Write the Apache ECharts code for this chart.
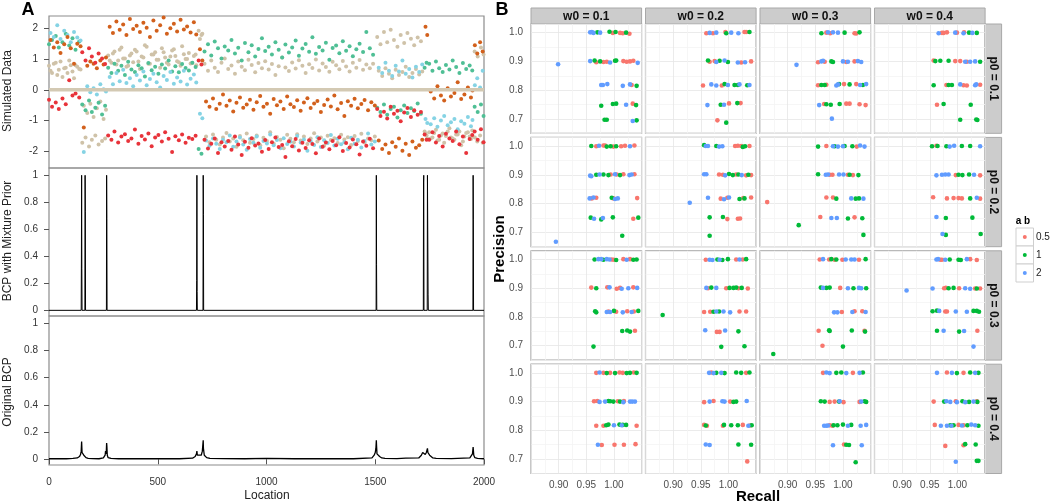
<!DOCTYPE html>
<html><head><meta charset="utf-8">
<script src="https://cdn.jsdelivr.net/npm/echarts@6/dist/echarts.min.js"></script>
<style>html,body{margin:0;padding:0;background:#fff}#c{width:1050px;height:504px}</style>
</head><body><div id="c"></div>
<script>
// ---------------- Panel A data ----------------
const locA = [0,14,31,45,62,77,93,108,122,139, 153,168,184,197,213,228,244,258, 272,287,301,318,333,349,364,379,395,411,426,441,457,472,488,503,519,534,550,566,581,597,612,628,643,659,674, 688,701, 715,731,746,762,777,793,808,824,839,855,870,886,901,917,932,948,963,979,994,1010,1025,1041,1056,1072,1087,1103,1118,1134,1149,1165,1180,1196,1211,1227,1242,1258,1273,1289,1304,1320,1335,1351,1366,1382,1397,1413,1428,1444,1459,1475,1490, 1509,1524,1540,1555,1571,1586,1602,1617,1633,1648,1664,1679,1695,1710, 1727,1736, 1748,1763,1779,1794,1810,1825,1841,1856,1872,1887,1903,1918,1934,1946, 1957,1971,1986,1998];
const locB = [7,22,38,53,70,85,100,115,130,145, 160,176,190,205,220,236,251,262, 279,294,310,325,341,356,372,387,403,418,434,449,464,480,495,511,527,542,558,574,589,605,620,635,651,666,677, 694,705, 722,738,754,769,785,800,816,831,847,862,878,893,909,924,940,955,971,986,1002,1017,1033,1048,1064,1079,1095,1110,1126,1141,1157,1172,1188,1203,1219,1234,1250,1265,1281,1296,1312,1327,1343,1358,1374,1389,1405,1420,1436,1451,1467,1482,1498, 1516,1532,1547,1563,1578,1594,1609,1625,1640,1656,1671,1687,1702,1716, 1731,1739, 1755,1771,1786,1802,1817,1833,1848,1864,1879,1895,1910,1926,1940,1947, 1958,1969,1982,1994];

const simRed = [-0.32,-0.55,-0.41,-0.62,-0.28,-0.47,0.31,-0.18,-0.12,-0.25,
 1.22,0.95,1.35,1.08,0.88,1.18,1.02,0.84,
 -1.48,-1.62,-1.35,-1.71,-1.52,-1.44,-1.66,-1.58,-1.29,-1.75,-1.50,-1.61,-1.42,-1.83,-1.55,-1.47,-1.68,-1.38,-1.59,-2.02,-1.51,-1.64,-1.45,-1.72,-1.56,-1.60,-1.49,
 0.95,0.82,
 -1.62,-1.91,-1.75,-1.58,-2.05,-1.70,-1.84,-1.66,-1.95,-1.52,-1.78,-2.12,-1.69,-1.88,-1.57,-1.81,-1.74,-2.01,-1.63,-1.92,-1.70,-1.55,-1.86,-1.79,-2.18,-1.67,-1.83,-1.60,-1.97,-1.72,-1.89,-1.64,-1.76,-2.06,-1.58,-1.85,-1.71,-1.93,-1.66,-1.80,-1.54,-1.99,-1.73,-1.87,-1.61,-1.77,-2.10,-1.68,-1.82,-1.59,-1.90,
 -0.62,-0.85,-0.71,-0.93,-0.55,-0.78,-0.68,-1.02,-0.74,-0.59,-0.88,-0.66,-0.81,-0.72,
 -1.45,-1.62,
 -1.62,-1.38,-1.71,-1.50,-1.84,-1.43,-1.58,-1.66,-1.35,-1.77,-1.52,-2.05,-1.60,-1.47,
 -1.35,-1.62,-1.28,-1.70];
const simTeal = [1.48,1.62,1.75,1.38,1.55,1.82,1.44,1.68,1.30,1.57,
 -0.48,-0.66,-0.35,-0.72,-0.58,-0.42,-0.80,-0.52,
 0.72,0.55,0.85,0.62,0.78,0.48,0.91,0.66,0.58,0.80,0.70,0.43,0.87,0.64,0.75,0.52,0.82,0.69,0.95,0.60,0.77,0.57,0.84,0.71,0.63,0.88,0.74,
 -1.92,-2.08,
 1.25,1.48,1.12,1.57,1.35,1.02,1.41,1.28,1.62,1.18,1.37,0.95,1.52,1.22,1.45,1.08,1.33,1.68,1.26,1.40,1.15,1.55,1.30,1.05,1.47,1.21,1.38,1.60,1.11,1.34,1.49,1.24,1.71,1.17,1.39,1.28,1.53,0.98,1.36,1.44,1.19,1.58,1.27,1.42,1.09,1.32,1.50,1.23,1.88,1.35,1.14,
 -0.58,-0.72,-0.48,-0.81,-0.62,-0.55,-0.90,-0.66,-0.51,-0.75,-0.60,-0.69,-0.44,-0.78,
 0.72,0.88,
 0.85,0.62,0.92,0.70,0.58,0.81,0.66,0.95,0.74,0.55,0.87,0.68,0.79,0.63,
 -0.55,-0.72,-0.48,-0.85];
const simTanA = [0.78,0.55,0.88,0.65,0.42,0.72,0.95,0.60,0.80,0.68,
 -1.72,-1.55,-1.84,-1.62,-1.48,-1.78,-1.66,-1.58,
 1.12,0.88,1.25,0.95,1.38,1.02,0.78,1.18,1.30,0.92,1.08,1.45,0.85,1.15,1.22,0.98,1.35,1.05,0.82,1.28,1.10,0.90,1.42,1.00,1.20,0.87,1.15,
 1.92,1.78,
 0.85,0.62,0.95,0.72,0.58,0.88,1.02,0.68,0.79,0.52,0.92,0.75,0.64,0.98,0.81,0.57,0.87,0.70,0.93,0.66,0.84,0.48,0.77,1.05,0.73,0.61,0.89,0.69,0.96,0.78,0.55,0.83,0.71,0.99,0.63,0.86,0.74,0.59,0.91,0.80,0.67,0.94,0.76,0.60,0.88,0.72,0.97,0.65,0.82,0.70,0.85,
 1.72,1.48,1.88,1.55,1.95,1.62,1.40,1.78,1.52,1.85,1.66,1.45,1.70,1.58,
 -1.35,-1.48,
 -1.38,-1.55,-1.30,-1.62,-1.42,-1.50,-1.25,-1.58,-1.45,-1.35,-1.68,-1.40,-1.52,-1.32,
 1.25,1.08,1.38,1.15];
const simOrange = [1.62,1.38,1.55,1.20,1.48,1.72,1.35,0.85,1.50,1.42,
 -1.22,0.78,0.92,0.85,0.70,0.95,0.82,1.05,
 2.05,1.85,2.22,1.95,2.12,1.78,2.30,1.98,2.08,1.88,2.18,2.02,1.72,2.25,1.92,2.10,2.35,1.82,2.00,2.15,1.90,2.28,1.96,2.06,1.86,2.20,1.80,
 1.32,0.95,
 -0.38,-0.55,-0.28,-0.62,-0.45,-0.15,-0.52,-0.35,-0.70,-0.42,-0.25,-0.58,-0.48,-0.32,-0.65,-0.40,-0.20,-0.55,-0.45,-0.78,-0.30,-0.50,-0.38,-0.62,-0.22,-0.47,-0.56,-0.34,-0.68,-0.41,-0.27,-0.59,-0.44,-0.36,-0.72,-0.49,-0.31,-0.54,-0.18,-0.63,-0.43,-0.85,-0.37,-0.52,-0.29,-0.60,-0.46,-0.33,-0.66,-0.40,-0.51,
 -1.65,-1.92,-1.78,-2.05,-1.70,-1.85,-1.58,-1.98,-1.75,-2.12,-1.68,-1.88,-1.80,-1.62,
 2.05,1.78,
 -0.05,-0.28,0.12,-0.18,-0.35,0.05,-0.22,-0.10,0.25,-0.30,-0.15,0.08,-0.25,-0.02,
 1.45,1.18,1.55,1.25];
const simBlue = [1.85,1.72,2.10,1.65,1.92,1.78,1.55,1.88,1.70,1.60,
 -2.02,0.12,-0.08,0.05,-0.15,0.18,0.02,-0.05,
 0.42,0.18,0.55,0.28,0.65,0.22,0.38,0.12,0.48,0.30,0.60,0.15,0.35,0.52,0.25,0.08,0.45,0.32,0.58,0.20,0.40,0.27,0.62,0.17,0.36,0.50,0.24,
 -0.78,-0.92,
 -1.65,-1.82,-1.58,-1.75,-1.92,-1.62,-1.70,-1.48,-1.85,-1.68,-1.55,-1.78,-1.95,-1.60,-1.72,-1.52,-1.88,-1.66,-1.74,-1.45,-1.80,-1.63,-1.90,-1.57,-1.76,-1.69,-1.84,-1.50,-1.71,-1.61,-1.98,-1.67,-1.79,-1.54,-1.86,-1.64,-1.73,-1.47,-1.81,-1.59,-1.77,-1.70,-1.93,-1.56,-1.75,-1.62,-1.87,-1.66,-1.42,-1.78,-1.68,
 0.72,0.55,0.88,0.62,0.45,0.78,0.60,0.95,0.52,0.68,0.40,0.75,0.58,0.82,
 -0.95,-1.08,
 -1.12,-0.92,-1.20,-1.00,-0.85,-1.15,-1.05,-0.95,-1.28,-1.02,-1.10,-0.88,-1.18,-0.98,
 0.15,0.38,0.08,0.62];
const simTanB = [0.62,0.85,0.48,0.92,0.70,0.55,0.80,0.38,0.75,0.66,
 -0.52,-0.75,-0.45,-0.88,-0.60,-0.38,-0.95,-0.65,
 0.95,1.18,0.82,1.30,1.02,0.75,1.12,0.90,1.25,0.68,1.05,1.40,0.85,1.15,0.98,0.72,1.22,0.88,1.08,1.32,0.93,0.78,1.16,1.00,0.86,1.10,0.80,
 1.65,1.82,
 -1.52,-1.70,-1.45,-1.62,-1.78,-1.55,-1.40,-1.68,-1.58,-1.85,-1.50,-1.64,-1.42,-1.72,-1.60,-1.48,-1.80,-1.56,-1.66,-1.38,-1.74,-1.53,-1.62,-1.90,-1.46,-1.59,-1.70,-1.44,-1.65,-1.52,-1.76,-1.58,-1.41,-1.68,-1.55,-1.82,-1.49,-1.63,-1.57,-1.73,-1.46,-1.61,-1.54,-1.79,-1.50,-1.66,-1.43,-1.71,-1.58,-1.64,-1.52,
 0.62,0.45,0.70,0.52,0.38,0.65,0.48,0.58,0.75,0.42,0.55,0.68,0.50,0.60,
 -1.42,-1.58,
 -1.58,-1.40,-1.65,-1.48,-1.72,-1.35,-1.55,-1.62,-1.45,-1.80,-1.52,-1.38,-1.60,-1.50,
 -1.55,-1.68,-1.48,-1.72];
const zeroLoc = [0, 2000];
const zeroVal = [0, 0];

const mixLoc  = [0, 148,149,150,151,152, 165,166,167,168, 264,265,266,267, 678,679,680,681,682, 708,709,710,711, 1504,1505,1506,1507, 1721,1722,1723,1724, 1739,1740,1741,1742,1743,1744, 1949,1950,1951,1952, 2000];
const mixProb = [0, 0,0.38,1,0.31,0, 0,1,0.73,0, 0,1,0.68,0, 0,0.22,1,0.14,0, 0,1,0.71,0, 0,1,0.34,0, 0,0.95,1,0, 0,1,1,1,0.12,0, 0,1,0.67,0, 0];

const origLoc  = [0,40,80,110,130,140,145,148,150,151,152,155,160,165,170,180,200,230,250,258,260,262,263,265,266,268,272,285,320,400,500,600,660,672,678,680,682,690,700,705,709,710,714,725,740,800,900,1000,1128,1131,1135,1200,1300,1400,1485,1495,1500,1503,1505,1506,1508,1512,1515,1520,1530,1545,1600,1640,1700,1712,1718,1722,1725,1730,1735,1740,1742,1745,1750,1756,1765,1780,1850,1935,1943,1947,1950,1951,1953,1958,1970,2000];
const origProb = [0.004,0.005,0.004,0.006,0.01,0.02,0.035,0.06,0.13,0.12,0.05,0.04,0.03,0.02,0.012,0.007,0.005,0.004,0.01,0.03,0.06,0.07,0.04,0.12,0.10,0.03,0.012,0.006,0.004,0.004,0.005,0.004,0.008,0.02,0.04,0.06,0.03,0.02,0.03,0.06,0.14,0.08,0.03,0.012,0.006,0.005,0.004,0.006,0.004,0.012,0.005,0.004,0.005,0.004,0.01,0.03,0.05,0.08,0.14,0.10,0.04,0.03,0.035,0.02,0.01,0.006,0.005,0.008,0.01,0.03,0.05,0.06,0.04,0.035,0.05,0.08,0.05,0.045,0.03,0.02,0.01,0.006,0.005,0.01,0.02,0.04,0.09,0.07,0.03,0.012,0.006,0.004];

const xTicksA = [0,500,1000,1500,2000];
const yTicksSim = [-2,-1,0,1,2];
const yTicksProb = [0,0.2,0.4,0.6,0.8,1];

// ---------------- Panel B data: [recall, precision, a b index] ----------------
const abLevels = ['0.5','1','2'];
const w0Levels = ['w0 = 0.1','w0 = 0.2','w0 = 0.3','w0 = 0.4'];
const p0Levels = ['p0 = 0.1','p0 = 0.2','p0 = 0.3','p0 = 0.4'];

const pr_p1_w1 = [[0.957,1.001,2],[0.960,1.002,2],[0.963,0.999,2],[0.970,1.001,1],[0.975,1.0,2],[0.992,1.003,1],[0.998,0.999,0],[1.003,1.002,1],[1.011,0.999,0],[1.016,0.998,0],[1.022,1.0,1],[1.028,0.996,0],
[0.899,0.890,2],[0.957,0.901,2],[0.965,0.903,1],[0.968,0.897,0],[0.975,0.900,1],[0.981,0.898,0],[0.987,0.899,0],[0.993,0.896,2],[1.002,0.902,1],[1.004,0.903,1],[1.017,0.901,0],[1.023,0.899,0],[1.029,0.900,0],[1.035,0.902,0],[1.043,0.895,2],
[0.977,0.818,2],[0.980,0.818,2],[0.988,0.821,2],[1.016,0.815,2],[1.029,0.820,2],[1.032,0.818,0],[1.041,0.815,1],
[0.977,0.746,1],[0.998,0.752,1],[1.004,0.753,1],[1.022,0.749,2],[1.034,0.753,0],[1.040,0.748,1],
[0.983,0.697,1],[0.987,0.697,1],[1.034,0.693,2],[1.041,0.695,1]];
const pr_p1_w2 = [[0.960,0.998,0],[0.966,0.999,2],[0.972,0.998,0],[0.978,1.0,2],[0.9945,1.002,0],[0.996,0.998,1],[1.005,1.0,2],[1.018,0.998,2],[1.029,1.002,0],[1.032,1.002,0],[1.038,1.002,1],
[0.963,0.903,1],[0.966,0.899,0],[0.975,0.901,0],[0.978,0.898,2],[0.984,0.902,1],[0.993,0.903,2],[0.999,0.898,1],[1.017,0.896,2],[1.023,0.896,0],[1.030,0.897,2],[1.041,0.900,0],
[0.954,0.816,0],[0.969,0.820,2],[0.978,0.816,2],[0.988,0.816,0],[0.993,0.821,1],[0.999,0.818,2],[1.011,0.818,1],[1.017,0.818,1],[1.020,0.820,2],[1.034,0.817,1],[1.038,0.818,2],
[0.962,0.748,2],[0.986,0.749,1],[0.992,0.749,2],[1.001,0.754,0],[1.016,0.755,1],[1.022,0.755,0],
[0.980,0.695,0],[0.996,0.687,1]];
const pr_p1_w3 = [[0.961,0.998,1],[0.970,1.0,0],[0.973,1.001,2],[0.977,0.998,0],[0.982,1.001,2],[0.991,1.0,2],[1.003,1.0,1],[1.021,0.998,0],[1.024,0.997,0],[1.030,1.001,1],
[0.916,0.888,2],[0.955,0.897,0],[0.961,0.900,2],[0.964,0.902,2],[0.967,0.899,0],[0.979,0.900,1],[0.982,0.898,1],[1.000,0.900,2],[1.006,0.898,0],[1.009,0.899,2],[1.021,0.900,0],[1.027,0.901,2],[1.033,0.898,2],
[0.955,0.817,0],[0.961,0.818,1],[0.967,0.818,1],[0.970,0.819,0],[0.988,0.816,2],[0.991,0.820,2],[0.993,0.821,1],[1.002,0.821,0],[1.012,0.820,1],[1.024,0.821,0],[1.031,0.818,2],[1.036,0.818,1],[1.042,0.821,2],
[0.957,0.748,2],[0.966,0.752,0],[0.970,0.751,1],[0.978,0.749,1],[0.994,0.752,1],[1.006,0.753,0],[1.012,0.753,0],[1.030,0.751,0],[1.041,0.748,0],
[0.980,0.701,2]];
const pr_p1_w4 = [[0.966,0.998,2],[0.972,0.999,0],[0.975,0.999,0],[0.981,1.001,0],[0.996,1.0,2],[0.999,1.0,0],[1.011,0.998,2],[1.012,1.001,0],[1.021,1.0,1],[1.027,0.999,2],[1.035,0.999,1],
[0.957,0.903,0],[0.960,0.901,1],[0.969,0.902,1],[0.984,0.902,1],[0.996,0.901,0],[1.005,0.901,0],[1.014,0.899,2],[1.017,0.899,0],[1.023,0.899,2],[1.032,0.900,2],[1.041,0.899,1],
[0.957,0.817,1],[0.980,0.818,0],[0.984,0.818,1],[0.990,0.818,1],[1.005,0.820,2],[1.011,0.817,0],[1.017,0.816,0],[1.032,0.817,2],[1.034,0.820,2],[1.041,0.819,0],
[0.963,0.749,0],[0.975,0.752,1],[1.024,0.749,1],
[1.005,0.697,1],[1.034,0.698,1],[1.036,0.696,1]];
const pr_p2_w1 = [[0.959,1.0,1],[0.968,0.999,0],[0.973,1.001,2],[0.981,1.002,0],[0.984,1.002,0],[0.987,0.998,1],[0.994,0.999,1],[0.999,0.998,0],[1.004,0.999,1],[1.013,0.999,0],[1.020,1.001,0],[1.029,0.999,2],[1.037,1.002,0],
[0.957,0.897,2],[0.959,0.895,2],[0.968,0.900,1],[0.974,0.901,2],[0.981,0.901,1],[0.990,0.899,1],[0.994,0.901,0],[1.002,0.902,2],[1.005,0.901,0],[1.011,0.899,1],[1.017,0.902,0],[1.028,0.899,2],[1.032,0.901,2],[1.037,0.902,0],
[0.956,0.818,2],[0.960,0.818,0],[0.963,0.821,2],[0.968,0.820,0],[0.996,0.820,1],[0.999,0.818,0],[1.002,0.816,2],[1.007,0.818,2],[1.042,0.819,0],
[0.958,0.751,1],[0.964,0.747,2],[0.977,0.745,1],[0.980,0.750,2],[0.998,0.752,1],[1.035,0.747,0],[1.044,0.751,1],
[1.015,0.688,1],[0.895,0.667,2]];
const pr_p2_w2 = [[0.956,1.003,1],[0.959,1.0,2],[0.963,1.0,2],[0.978,1.0,1],[0.983,0.998,2],[0.989,0.999,2],[1.012,1.0,0],[1.017,1.001,0],[1.023,1.0,0],[1.026,0.997,1],[1.030,0.999,1],[1.038,1.0,0],
[0.956,0.902,2],[0.960,0.902,2],[0.983,0.901,0],[0.990,0.900,0],[0.994,0.898,2],[1.001,0.903,1],[1.008,0.899,1],[1.014,0.901,0],[1.018,0.901,1],[1.024,0.899,2],[1.032,0.898,0],[1.036,0.900,1],[1.041,0.899,0],
[0.963,0.820,2],[0.986,0.817,0],[0.992,0.815,2],[0.998,0.820,0],[1.001,0.821,2],[1.020,0.816,1],[1.027,0.819,0],[1.029,0.818,1],[1.041,0.821,0],
[0.966,0.752,1],[0.990,0.753,1],[0.998,0.746,0],[1.017,0.747,0],[1.021,0.748,0],
[0.966,0.688,1],[0.930,0.803,2]];
const pr_p2_w3 = [[0.955,0.998,1],[0.970,1.0,0],[0.982,0.999,2],[0.985,0.999,1],[0.991,0.998,2],[1.000,0.999,2],[1.003,1.0,1],[1.017,0.999,1],[1.025,0.998,0],[1.031,1.002,2],[1.039,0.998,2],
[0.955,0.902,1],[0.969,0.900,2],[0.973,0.901,2],[0.976,0.900,0],[0.981,0.900,0],[0.993,0.901,2],[1.001,0.901,2],[1.009,0.900,0],[1.012,0.900,1],[1.018,0.899,0],[1.028,0.899,1],
[0.970,0.821,0],[0.982,0.821,0],[0.988,0.817,1],[1.015,0.818,2],[1.023,0.817,1],[1.029,0.818,1],[1.037,0.817,2],
[0.959,0.753,0],[0.979,0.750,2],[0.989,0.750,2],[1.009,0.748,1],[1.021,0.752,0],[1.035,0.749,1],
[1.037,0.691,1],[0.863,0.805,0],[0.920,0.725,1]];
const pr_p2_w4 = [[0.954,0.999,1],[0.962,1.001,0],[0.964,1.0,1],[0.980,0.999,1],[0.986,0.998,2],[0.994,1.001,2],[1.008,1.0,1],[1.023,1.0,1],[1.041,0.999,2],
[0.962,0.898,2],[0.972,0.900,2],[0.978,0.901,2],[0.984,0.901,2],[0.997,0.899,0],[1.002,0.900,1],[1.009,0.899,1],[1.021,0.901,1],[1.030,0.900,2],[1.041,0.898,0],
[0.956,0.822,0],[0.981,0.818,0],[0.993,0.819,0],[1.002,0.819,0],[1.008,0.818,0],[1.023,0.818,1],[1.035,0.820,2],[1.041,0.817,0],
[0.962,0.753,2],[0.979,0.750,1],[1.027,0.751,1],
[0.973,0.694,2],[0.979,0.691,1],[1.042,0.694,1]];
const pr_p3_w1 = [[0.965,1.0,1],[0.972,1.001,2],[0.977,1.001,2],[0.981,0.999,1],[0.987,1.001,2],[0.992,1.0,2],[0.996,1.0,0],[1.000,0.999,0],[1.004,0.998,1],[1.017,1.001,0],[1.023,0.999,2],[1.029,1.001,0],[1.035,0.999,1],[1.041,1.0,1],
[0.959,0.902,0],[0.968,0.900,1],[0.988,0.903,0],[0.992,0.903,2],[1.005,0.898,0],[1.011,0.901,0],[1.014,0.898,2],[1.026,0.900,2],[1.035,0.903,0],[1.042,0.901,2],
[0.966,0.820,1],[0.968,0.816,1],[0.987,0.817,2],[0.990,0.819,0],[0.993,0.817,2],[1.000,0.821,1],[1.004,0.818,0],[1.016,0.816,2],[1.024,0.820,0],[1.032,0.817,2],[1.036,0.819,0],[1.044,0.821,1],
[1.015,0.751,1],[1.024,0.753,1],[1.029,0.749,1],[1.038,0.752,0],
[0.963,0.697,1]];
const pr_p3_w2 = [[0.959,0.999,0],[0.966,0.999,2],[0.971,0.998,2],[0.980,1.0,1],[0.984,0.999,2],[0.989,0.998,1],[0.999,1.001,1],[1.014,1.0,0],[1.020,1.0,2],[1.026,1.0,0],[1.032,1.001,1],
[0.960,0.901,2],[0.963,0.900,0],[0.969,0.902,1],[0.978,0.901,2],[0.996,0.900,0],[1.002,0.901,1],[1.009,0.901,1],[1.014,0.902,1],[1.018,0.900,0],[1.024,0.901,1],[1.035,0.899,0],
[0.956,0.817,0],[0.967,0.818,0],[0.973,0.818,1],[0.978,0.819,2],[0.983,0.819,1],[0.991,0.819,2],[1.003,0.816,2],[1.020,0.819,0],[1.032,0.819,0],
[0.958,0.754,2],[0.979,0.748,0],[0.984,0.748,0],[0.994,0.753,2],[1.018,0.750,1],
[0.987,0.696,1],[1.029,0.698,1],[0.881,0.807,1]];
const pr_p3_w3 = [[0.958,1.0,0],[0.964,1.001,2],[0.975,1.0,0],[0.979,1.001,1],[0.985,0.999,0],[0.988,1.0,1],[0.999,0.999,0],[1.005,1.0,2],[1.015,1.0,2],[1.021,1.0,2],[1.029,0.999,0],[1.041,1.001,1],
[0.960,0.902,1],[0.964,0.901,2],[0.970,0.901,1],[0.976,0.902,1],[0.995,0.901,0],[1.009,0.900,2],[1.019,0.900,1],[1.029,0.901,2],[1.033,0.900,2],[1.042,0.900,1],
[0.984,0.816,2],[0.990,0.816,2],[0.998,0.817,0],[1.017,0.817,2],[1.021,0.820,0],[1.035,0.820,0],[1.041,0.817,2],
[0.956,0.752,0],[0.975,0.754,1],[0.976,0.751,1],[1.016,0.753,1],[1.039,0.752,0],[1.040,0.749,1],
[0.963,0.700,0],[1.000,0.697,1],[0.874,0.671,1]];
const pr_p3_w4 = [[0.962,1.0,2],[0.965,1.001,2],[0.969,0.999,0],[0.972,0.999,0],[0.978,0.999,2],[0.986,1.0,1],[1.002,0.999,1],[1.006,0.998,1],[1.017,1.001,2],[1.023,1.001,0],[1.035,0.998,0],
[0.908,0.892,2],[0.955,0.899,2],[0.976,0.900,0],[0.979,0.901,0],[0.984,0.900,1],[0.993,0.901,1],[1.003,0.900,0],[1.014,0.900,2],[1.023,0.898,2],[1.032,0.899,0],[1.035,0.899,1],[1.041,0.899,0],
[0.955,0.820,1],[0.963,0.822,1],[0.967,0.821,2],[0.978,0.819,0],[0.981,0.819,0],[0.997,0.819,2],[1.017,0.818,2],[1.029,0.821,1],[1.035,0.821,1],[1.039,0.818,1],
[0.963,0.752,1],[0.975,0.752,2],[1.003,0.749,1],[1.012,0.751,2],[1.036,0.752,0],
[1.029,0.697,2]];
const pr_p4_w1 = [[0.968,1.0,0],[0.974,1.001,2],[0.981,1.0,0],[0.987,0.999,1],[0.993,1.0,0],[1.002,0.999,1],[1.010,1.001,0],[1.016,1.0,0],[1.023,0.999,1],[1.029,1.0,1],[1.036,1.001,0],[1.041,1.0,1],
[0.964,0.901,0],[0.970,0.902,0],[0.974,0.899,2],[0.984,0.900,2],[0.990,0.902,1],[0.993,0.901,1],[0.999,0.900,1],[1.007,0.901,0],[1.011,0.900,1],[1.017,0.898,2],[1.018,0.902,0],[1.029,0.900,2],[1.033,0.900,2],[1.038,0.900,2],
[0.968,0.816,0],[0.981,0.816,0],[0.986,0.818,1],[0.990,0.820,1],[1.000,0.818,2],[1.010,0.820,1],[1.014,0.818,2],[1.016,0.819,1],[1.022,0.819,1],[1.041,0.816,0],
[0.971,0.750,2],[0.978,0.749,0],[1.001,0.750,0],[1.018,0.750,0],[1.039,0.752,0]];
const pr_p4_w2 = [[0.965,1.0,2],[0.969,1.001,0],[0.973,0.999,2],[0.978,1.0,1],[0.987,1.0,2],[0.993,0.999,1],[1.014,1.001,1],[1.023,1.0,1],[1.032,1.0,0],[1.038,1.001,1],
[0.956,0.898,0],[0.966,0.900,2],[0.973,0.902,0],[0.989,0.901,2],[0.993,0.900,2],[1.003,0.900,0],[1.009,0.899,1],[1.014,0.900,1],[1.033,0.902,2],
[0.956,0.819,0],[0.959,0.817,1],[0.961,0.816,0],[0.990,0.816,0],[0.992,0.819,1],[1.005,0.818,1],[1.017,0.818,1],[1.026,0.819,0],[1.036,0.816,2],[1.039,0.817,0],[1.042,0.818,1],
[0.959,0.751,2],[0.966,0.749,2],[1.018,0.751,1],[1.041,0.750,1],
[1.034,0.692,0]];
const pr_p4_w3 = [[0.964,1.0,0],[0.970,1.001,2],[0.976,0.999,2],[0.988,1.0,1],[0.997,1.001,1],[1.006,0.999,2],[1.018,1.0,0],[1.030,1.0,2],[1.036,1.001,1],
[0.960,0.901,1],[0.967,0.900,1],[0.976,0.899,0],[0.985,0.900,0],[0.993,0.900,1],[0.994,0.901,2],[1.001,0.898,0],[1.030,0.899,0],[1.033,0.900,2],[1.039,0.901,1],[1.042,0.899,1],
[0.966,0.816,2],[0.970,0.816,2],[0.973,0.817,2],[0.976,0.818,0],[0.981,0.816,0],[0.983,0.818,1],[0.990,0.818,1],[1.000,0.820,1],[1.009,0.816,2],[1.015,0.819,1],[1.032,0.816,2],[1.042,0.819,2],
[0.982,0.748,2],[1.002,0.751,0],[1.006,0.750,1],[1.011,0.749,1],[1.034,0.748,2],
[1.023,0.689,1]];
const pr_p4_w4 = [[0.963,1.0,2],[0.981,1.001,0],[0.990,1.0,2],[0.999,0.999,1],[1.011,1.0,0],[1.023,1.001,1],[1.032,1.0,2],[1.038,1.0,1],
[0.957,0.900,0],[0.976,0.900,1],[0.980,0.901,2],[0.987,0.899,2],[0.997,0.901,0],[0.999,0.898,2],[1.009,0.901,1],[1.014,0.898,2],[1.021,0.899,1],[1.029,0.900,2],[1.035,0.901,0],[1.036,0.899,1],
[0.959,0.819,0],[0.970,0.816,2],[0.981,0.816,2],[0.987,0.818,1],[0.989,0.816,2],[0.993,0.818,1],[1.002,0.819,0],[1.008,0.817,2],[1.011,0.818,0],[1.018,0.818,1],[1.025,0.820,2],[1.032,0.818,2],[1.038,0.816,1],
[0.978,0.746,0],[1.011,0.748,0],[1.014,0.752,1],[1.033,0.751,1],
[0.997,0.691,2],[1.035,0.694,1],[1.038,0.694,1]];

const recallTicks = [0.9,0.95,1.0];
const precisionTicks = [0.7,0.8,0.9,1.0];

// ---------------- Build chart ----------------
const FONT = '"Liberation Sans", Arial, sans-serif';
const simColors = {red:'#e8333a', orange:'#d2601c', tan:'#cfc2a8', teal:'#4fbf95', blue:'#85d3e4'};
const abColors = ['#F8766D','#00BA38','#619CFF'];
const gMajor = '#e6e6e6', gMinor = '#f4f4f4';

function zip(a,b){const o=[];for(let i=0;i<Math.min(a.length,b.length);i++)o.push([a[i],b[i]]);return o;}

const grids=[], xAxes=[], yAxes=[], series=[], graphics=[];
const frameA = {show:true, borderColor:'#8c8c8c', borderWidth:1.2, backgroundColor:'transparent'};
grids.push(Object.assign({left:49, top:16, width:435, height:152}, frameA));
grids.push(Object.assign({left:49, top:168, width:435, height:148}, frameA));
grids.push(Object.assign({left:49, top:316, width:435, height:149}, frameA));

const tickLbl = {fontSize:10, color:'#333', fontFamily:FONT};
for (let g=0; g<3; g++){
  const isBottom = g===2;
  xAxes.push({gridIndex:g, type:'value', min:0, max:2000,
    axisLine:{show:false}, splitLine:{show:false},
    axisTick:{show:isBottom, customValues:xTicksA, length:5, lineStyle:{color:'#555'}},
    axisLabel:Object.assign({show:isBottom, customValues:xTicksA, margin:12, formatter:v=>String(v)}, tickLbl)});
}
yAxes.push({gridIndex:0, type:'value', min:-2.54, max:2.40, axisLine:{show:false}, splitLine:{show:false},
  axisTick:{show:true, customValues:yTicksSim, length:5, lineStyle:{color:'#555'}},
  axisLabel:Object.assign({customValues:yTicksSim, margin:11, formatter:v=>String(v)}, tickLbl)});
for (let g=1; g<3; g++){
  yAxes.push({gridIndex:g, type:'value', min:-0.042, max:1.054, axisLine:{show:false}, splitLine:{show:false},
    axisTick:{show:true, customValues:yTicksProb, length:5, lineStyle:{color:'#555'}},
    axisLabel:Object.assign({customValues:yTicksProb, margin:11, formatter:v=>String(Math.round(v*10)/10)}, tickLbl)});
}

const sc = (data,color,xi,yi,size)=>({type:'scatter', xAxisIndex:xi, yAxisIndex:yi, data, symbolSize:size, itemStyle:{color, opacity:1}, silent:true, z:2});
series.push(sc(zip(locA,simTanA), simColors.tan,0,0,4));
series.push(sc(zip(locB,simTanB), simColors.tan,0,0,4));
series.push(sc(zip(locA,simTeal), simColors.teal,0,0,4));
series.push(sc(zip(locB,simBlue), simColors.blue,0,0,4));
series.push(sc(zip(locB,simOrange), simColors.orange,0,0,4));
series.push(sc(zip(locA,simRed), simColors.red,0,0,4));
series.push({type:'line', xAxisIndex:0, yAxisIndex:0, data:zip(zeroLoc,zeroVal), showSymbol:false, lineStyle:{color:'#d3c9b3', width:3.5}, z:3, silent:true});
series.push({type:'line', xAxisIndex:1, yAxisIndex:1, data:zip(mixLoc,mixProb), showSymbol:false, lineStyle:{color:'#000', width:1}, silent:true});
series.push({type:'line', xAxisIndex:2, yAxisIndex:2, data:zip(origLoc,origProb), showSymbol:false, lineStyle:{color:'#000', width:1.3}, silent:true});

// Panel B
const panels = [[pr_p1_w1,pr_p1_w2,pr_p1_w3,pr_p1_w4],[pr_p2_w1,pr_p2_w2,pr_p2_w3,pr_p2_w4],[pr_p3_w1,pr_p3_w2,pr_p3_w3,pr_p3_w4],[pr_p4_w1,pr_p4_w2,pr_p4_w3,pr_p4_w4]];
const bLeft=531, bTop=24, bW=110.6, bH=109.3, bDx=114.5, bDy=113.4;
const bLbl = {fontSize:10, color:'#4d4d4d', fontFamily:FONT};
for (let r=0;r<4;r++){
  for (let c=0;c<4;c++){
    const gi = grids.length;
    grids.push({left:bLeft+c*bDx, top:bTop+r*bDy, width:bW, height:bH, show:true, borderColor:'#a3a3a3', borderWidth:1.2, backgroundColor:'#fff'});
    xAxes.push({gridIndex:gi, type:'value', min:0.85, max:1.05, interval:0.025,
      axisLine:{show:false}, axisTick:{show:false},
      splitLine:{show:true, showMinLine:true, showMaxLine:true, lineStyle:{color:[gMajor,gMinor], width:0.8}},
      axisLabel: r===3 ? Object.assign({show:true, customValues:recallTicks, formatter:v=>v.toFixed(2), margin:7}, bLbl) : {show:false}});
    yAxes.push({gridIndex:gi, type:'value', min:0.65, max:1.03, interval:0.05,
      axisLine:{show:false}, axisTick:{show:false},
      splitLine:{show:true, showMinLine:true, showMaxLine:true, lineStyle:{color:[gMinor,gMajor], width:0.8}},
      axisLabel: c===0 ? Object.assign({show:true, customValues:precisionTicks, formatter:v=>v.toFixed(1), margin:8}, bLbl) : {show:false}});
    const pts = panels[r][c];
    for (let g=0; g<3; g++){
      series.push(sc(pts.filter(p=>p[2]===g).map(p=>[p[0],p[1]]), abColors[g], gi, gi, 4.6));
    }
  }
}

// Text / decorations
const T = (text,x,y,opt)=>Object.assign({type:'text', x, y, silent:true,
  style:Object.assign({text, fill:'#222', fontSize:12, fontFamily:FONT, textAlign:'center', textVerticalAlign:'middle', align:'center', verticalAlign:'middle'}, (opt&&opt.style)||{})},
  opt&&opt.rotation!==undefined?{rotation:opt.rotation}:{} );
graphics.push(T('A',28,10,{style:{fontSize:18,fontWeight:'bold',fill:'#000'}}));
graphics.push(T('B',502,10,{style:{fontSize:18,fontWeight:'bold',fill:'#000'}}));
graphics.push(T('Simulated Data',8,91,{rotation:Math.PI/2}));
graphics.push(T('BCP with Mixture Prior',8,241,{rotation:Math.PI/2}));
graphics.push(T('Original BCP',8,392,{rotation:Math.PI/2}));
graphics.push(T('Location',267,496,{}));
graphics.push(T('Precision',500,249,{rotation:Math.PI/2, style:{fontSize:15,fontWeight:'bold',fill:'#000'}}));
graphics.push(T('Recall',758,497,{style:{fontSize:15,fontWeight:'bold',fill:'#000'}}));
for (let c=0;c<4;c++){
  const x=bLeft+c*bDx;
  graphics.push({type:'rect', silent:true, shape:{x:x, y:8, width:bW, height:16}, style:{fill:'#cccccc', stroke:'#a8a8a8', lineWidth:1}});
  graphics.push(T(w0Levels[c], x+bW/2, 16.5, {style:{fontSize:12,fontWeight:'bold',fill:'#111'}}));
}
for (let r=0;r<4;r++){
  const y=bTop+r*bDy;
  graphics.push({type:'rect', silent:true, shape:{x:bLeft+3*bDx+bW, y:y, width:16.5, height:bH}, style:{fill:'#cccccc', stroke:'#a8a8a8', lineWidth:1}});
  graphics.push(T(p0Levels[r], bLeft+3*bDx+bW+8.5, y+bH/2, {rotation:-Math.PI/2, style:{fontSize:12,fontWeight:'bold',fill:'#111'}}));
}
graphics.push(T('a b',1023,221,{style:{fontSize:10,fontWeight:'bold',fill:'#000'}}));
for (let k=0;k<3;k++){
  const y=228+k*18;
  graphics.push({type:'rect', silent:true, shape:{x:1016, y:y, width:17.5, height:18}, style:{fill:'#fff', stroke:'#cfcfcf', lineWidth:1}});
  graphics.push({type:'circle', silent:true, shape:{cx:1024.8, cy:y+9, r:2}, style:{fill:abColors[k]}});
  graphics.push({type:'text', silent:true, x:1036, y:y+9, style:{text:abLevels[k], fontSize:10, fontFamily:FONT, fill:'#222', textAlign:'left', align:'left', textVerticalAlign:'middle', verticalAlign:'middle'}});
}

const chart = echarts.init(document.getElementById('c'), null, {renderer:'canvas'});
chart.setOption({animation:false, backgroundColor:'#fff', textStyle:{fontFamily:FONT},
  grid:grids, xAxis:xAxes, yAxis:yAxes, series, graphic:{elements:graphics}});
</script></body></html>
